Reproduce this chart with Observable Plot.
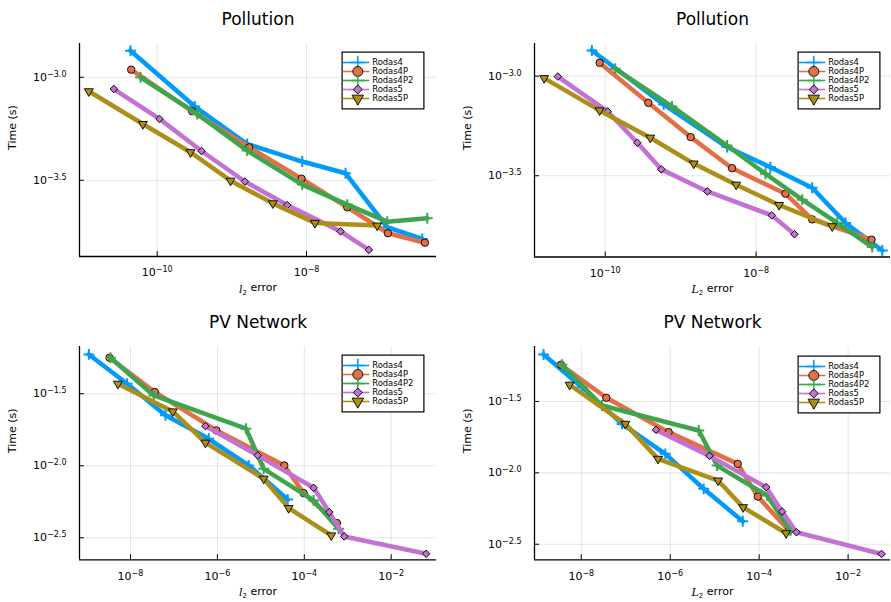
<!DOCTYPE html>
<html><head><meta charset="utf-8">
<script src="https://cdn.jsdelivr.net/npm/d3@7"></script>
<script src="https://cdn.jsdelivr.net/npm/@observablehq/plot@0.6"></script>
<style>
body{margin:0;background:#fff;}
#root{position:relative;width:891px;height:602px;overflow:hidden;font-family:"DejaVu Sans",sans-serif;}
#root svg{position:absolute;overflow:visible;}
</style></head><body><div id="root"></div>
<script>
const names = ["Rodas4","Rodas4P","Rodas4P2","Rodas5","Rodas5P"];
const colors = ["#009AFA","#E36F47","#3EA44E","#C371D2","#AC8E18"];
const symbols = ["plus","circle","plus","square","triangle"];
const rotations = [0,0,0,45,180];

// All values below are log10 of the plotted quantities
// Panel 1: Pollution, l2 error
const p1_err_R4   = [-10.357, -9.496, -8.795, -8.058, -7.478, -6.920, -6.451];
const p1_time_R4  = [-2.871, -3.142, -3.324, -3.409, -3.466, -3.728, -3.785];
const p1_err_R4P  = [-10.348, -9.531, -8.768, -8.067, -7.455, -6.911, -6.415];
const p1_time_R4P = [-2.963, -3.165, -3.340, -3.492, -3.631, -3.757, -3.803];
const p1_err_R4P2 = [-10.223, -9.464, -8.795, -8.058, -7.455, -6.920, -6.384];
const p1_time_R4P2= [-3.000, -3.178, -3.356, -3.521, -3.618, -3.701, -3.684];
const p1_err_R5   = [-10.580, -9.969, -9.406, -8.826, -8.259, -7.545, -7.165];
const p1_time_R5  = [-3.057, -3.202, -3.358, -3.506, -3.620, -3.748, -3.838];
const p1_err_R5P  = [-10.915, -10.192, -9.554, -9.018, -8.451, -7.888, -7.054];
const p1_time_R5P = [-3.068, -3.227, -3.364, -3.502, -3.612, -3.707, -3.720];
// Panel 2: Pollution, L2 error
const p2_err_R4   = [-10.177, -9.226, -8.385, -7.810, -7.257, -6.814, -6.327];
const p2_time_R4  = [-2.871, -3.142, -3.356, -3.457, -3.560, -3.737, -3.875];
const p2_err_R4P  = [-10.075, -9.429, -8.867, -8.319, -7.611, -7.257, -6.469];
const p2_time_R4P = [-2.933, -3.134, -3.306, -3.462, -3.590, -3.719, -3.821];
const p2_err_R4P2 = [-9.867, -9.115, -8.385, -7.876, -7.389, -6.925, -6.460];
const p2_time_R4P2= [-2.963, -3.152, -3.348, -3.490, -3.620, -3.737, -3.858];
const p2_err_R5   = [-10.628, -9.969, -9.575, -9.257, -8.646, -7.792, -7.491];
const p2_time_R5  = [-3.002, -3.177, -3.334, -3.468, -3.579, -3.699, -3.794];
const p2_err_R5P  = [-10.810, -10.075, -9.403, -8.827, -8.265, -7.695, -6.991];
const p2_time_R5P = [-3.010, -3.172, -3.309, -3.439, -3.545, -3.647, -3.754];
// Panel 3: PV Network, l2 error
const p3_err_R4   = [-8.958, -8.077, -7.195, -6.199, -5.280, -4.383];
const p3_time_R4  = [-1.227, -1.431, -1.650, -1.813, -1.998, -2.234];
const p3_err_R4P  = [-8.483, -7.441, -6.023, -4.460, -4.015, -3.249];
const p3_time_R4P = [-1.250, -1.488, -1.755, -1.998, -2.190, -2.398];
const p3_err_R4P2 = [-8.460, -7.464, -5.341, -4.935, -3.785, -3.211];
const p3_time_R4P2= [-1.250, -1.512, -1.743, -2.021, -2.241, -2.438];
const p3_err_R5   = [-6.276, -5.073, -3.785, -3.425, -3.080, -1.195];
const p3_time_R5  = [-1.725, -1.928, -2.153, -2.322, -2.491, -2.611];
const p3_err_R5P  = [-8.291, -7.027, -6.276, -4.935, -4.360, -3.379];
const p3_time_R5P = [-1.431, -1.623, -1.840, -2.090, -2.294, -2.484];
// Panel 4: PV Network, L2 error
const p4_err_R4   = [-8.848, -7.985, -7.085, -6.110, -5.247, -4.369];
const p4_time_R4  = [-1.171, -1.400, -1.657, -1.867, -2.112, -2.339];
const p4_err_R4P  = [-8.458, -7.437, -6.035, -4.482, -4.032, -3.334];
const p4_time_R4P = [-1.243, -1.474, -1.715, -1.937, -2.166, -2.404];
const p4_err_R4P2 = [-8.435, -7.535, -5.359, -4.947, -3.821, -3.296];
const p4_time_R4P2= [-1.243, -1.528, -1.703, -1.949, -2.159, -2.404];
const p4_err_R5   = [-6.320, -5.119, -3.844, -3.484, -3.161, -1.248];
const p4_time_R5  = [-1.699, -1.881, -2.100, -2.271, -2.416, -2.568];
const p4_err_R5P  = [-8.263, -7.010, -6.275, -4.924, -4.362, -3.394];
const p4_time_R5P = [-1.383, -1.657, -1.902, -2.054, -2.241, -2.423];

// tick exponents
const pollution_xticks = [-10, -8];
const pollution_yticks = [-3.0, -3.5];
const pv_xticks = [-8, -6, -4, -2];
const pv_yticks = [-1.5, -2.0, -2.5];
const titles = ["Pollution", "Pollution", "PV Network", "PV Network"];
const xlabelLetters = ["l", "L", "l", "L"];

const panels = [
  {err:[p1_err_R4,p1_err_R4P,p1_err_R4P2,p1_err_R5,p1_err_R5P], time:[p1_time_R4,p1_time_R4P,p1_time_R4P2,p1_time_R5,p1_time_R5P],
   xt:pollution_xticks, yt:pollution_yticks, xd:[-11.04,-6.26], yd:[-3.870,-2.836],
   left:0, top:0, width:445, height:300, mt:43, mb:44, ml:79, mr:9, leg:[341,51]},
  {err:[p2_err_R4,p2_err_R4P,p2_err_R4P2,p2_err_R5,p2_err_R5P], time:[p2_time_R4,p2_time_R4P,p2_time_R4P2,p2_time_R5,p2_time_R5P],
   xt:pollution_xticks, yt:pollution_yticks, xd:[-10.938,-6.218], yd:[-3.908,-2.836],
   left:445, top:0, width:446, height:300, mt:43, mb:43.5, ml:89, mr:1, leg:[797,51]},
  {err:[p3_err_R4,p3_err_R4P,p3_err_R4P2,p3_err_R5,p3_err_R5P], time:[p3_time_R4,p3_time_R4P,p3_time_R4P2,p3_time_R5,p3_time_R5P],
   xt:pv_xticks, yt:pv_yticks, xd:[-9.174,-0.957], yd:[-2.653,-1.172],
   left:0, top:301, width:445, height:301, mt:45, mb:42.7, ml:79, mr:9, leg:[341,354]},
  {err:[p4_err_R4,p4_err_R4P,p4_err_R4P2,p4_err_R5,p4_err_R5P], time:[p4_time_R4,p4_time_R4P,p4_time_R4P2,p4_time_R5,p4_time_R5P],
   xt:pv_xticks, yt:pv_yticks, xd:[-9.052,-1.047], yd:[-2.609,-1.115],
   left:445, top:301, width:446, height:301, mt:45, mb:42.7, ml:89, mr:1, leg:[797,355]}
];

const root = document.getElementById("root");
const NS = "http://www.w3.org/2000/svg";
const minus = s => s.replace("-", "\u2212");

function supify(svg) {
  svg.querySelectorAll("text").forEach(t => {
    const s = t.textContent;
    if (!s.includes("^")) return;
    const [b, e] = s.split("^");
    t.textContent = "";
    const t1 = document.createElementNS(NS, "tspan"); t1.textContent = b;
    const t2 = document.createElementNS(NS, "tspan"); t2.textContent = e;
    t2.setAttribute("dy", "-0.5em"); t2.setAttribute("font-size", "8px");
    t.append(t1, t2);
  });
}

function dotOpts(i, big) {
  const s = symbols[i];
  const base = {symbol: s, rotate: rotations[i]};
  if (s === "plus") return {...base, r: big ? 4.5 : 3.6, stroke: colors[i], strokeWidth: big ? 1.6 : 2, fill: "none"};
  const r = s === "circle" ? (big ? 5 : 3.7) : s === "square" ? (big ? 3.6 : 3) : (big ? 4.3 : 3.3);
  return {...base, r, fill: colors[i], stroke: "#000", strokeWidth: 0.9};
}

panels.forEach((P, pi) => {
  const series = names.map((n, i) => P.err[i].map((e, j) => ({name: n, err: 10 ** e, time: 10 ** P.time[i][j]})));
  const xv = P.xt.map(e => 10 ** e), yv = P.yt.map(e => 10 ** e);
  const xdom = P.xd.map(e => 10 ** e), ydom = P.yd.map(e => 10 ** e);
  const xlabText = xlabelLetters[pi] + "2 error";
  const marks = [
    Plot.gridX(xv, {stroke: "#000", strokeOpacity: 0.1, strokeWidth: 1}),
    Plot.gridY(yv, {stroke: "#000", strokeOpacity: 0.1, strokeWidth: 1}),
    Plot.ruleX([xdom[0]], {stroke: "#000", strokeWidth: 1.3}),
    Plot.ruleY([ydom[0]], {stroke: "#000", strokeWidth: 1.3}),
    Plot.axisX(xv, {tickSize: -5, tickPadding: 17, fontSize: 11, label: null,
      tickFormat: d => "10^" + minus(String(Math.round(Math.log10(d))))}),
    Plot.axisY(yv, {tickSize: -5, tickPadding: 18, fontSize: 11, label: null,
      tickFormat: d => "10^" + minus((Math.round(Math.log10(d) * 10) / 10).toFixed(1))})
  ];
  names.forEach((n, i) => {
    marks.push(Plot.line(series[i], {x: "err", y: "time", stroke: colors[i], strokeWidth: 4.5, strokeLinejoin: "round", strokeLinecap: "round"}));
    marks.push(Plot.dot(series[i], {x: "err", y: "time", ...dotOpts(i, false)}));
  });
  marks.push(Plot.text([titles[pi]], {frameAnchor: "top", dy: -31, fontSize: 17, fill: "#000"}));
  marks.push(Plot.text(["Time (s)"], {frameAnchor: "left", dx: -67, rotate: -90, fontSize: 11, fill: "#000"}));
  marks.push(Plot.text([xlabText], {frameAnchor: "bottom", dy: 36, fontSize: 11, fill: "#000"}));
  const svg = Plot.plot({
    width: P.width, height: P.height,
    marginTop: P.mt, marginBottom: P.mb, marginLeft: P.ml, marginRight: P.mr,
    x: {type: "log", domain: xdom}, y: {type: "log", domain: ydom},
    style: {fontFamily: "DejaVu Sans, sans-serif", fontSize: "11px", color: "#000", background: "transparent"},
    marks
  });
  supify(svg);
  svg.querySelectorAll("text").forEach(t => {
    if (t.textContent !== xlabText) return;
    t.textContent = "";
    const a = document.createElementNS(NS, "tspan"); a.textContent = xlabelLetters[pi];
    a.setAttribute("font-style", "italic"); a.setAttribute("font-family", "DejaVu Serif, serif");
    const b = document.createElementNS(NS, "tspan"); b.textContent = "2";
    b.setAttribute("font-size", "7px"); b.setAttribute("dy", "0.3em");
    const c = document.createElementNS(NS, "tspan"); c.textContent = " error"; c.setAttribute("dy", "-0.3em");
    t.append(a, b, c);
  });
  svg.style.left = P.left + "px"; svg.style.top = P.top + "px";
  root.appendChild(svg);

  // legend
  const lmarks = [Plot.frame({fill: "white", stroke: "#000", strokeWidth: 1.2, inset: 0.6})];
  names.forEach((n, i) => {
    lmarks.push(Plot.ruleY([n], {y: d => d, x1: 1.7, x2: 28.3, stroke: colors[i], strokeWidth: 1.6}));
    lmarks.push(Plot.dot([n], {x: 16.3, y: d => d, ...dotOpts(i, true)}));
  });
  lmarks.push(Plot.text(names, {x: 30.7, y: d => d, text: d => d, textAnchor: "start", fontSize: 8.4, fill: "#000"}));
  const leg = Plot.plot({
    width: 83, height: 58, margin: 0,
    x: {type: "identity", axis: null}, y: {type: "point", domain: names, range: [9.6, 49], padding: 0, axis: null},
    style: {fontFamily: "DejaVu Sans, sans-serif", background: "transparent"},
    marks: lmarks
  });
  leg.style.left = P.leg[0] + "px"; leg.style.top = P.leg[1] + "px";
  root.appendChild(leg);
});
</script></body></html>
